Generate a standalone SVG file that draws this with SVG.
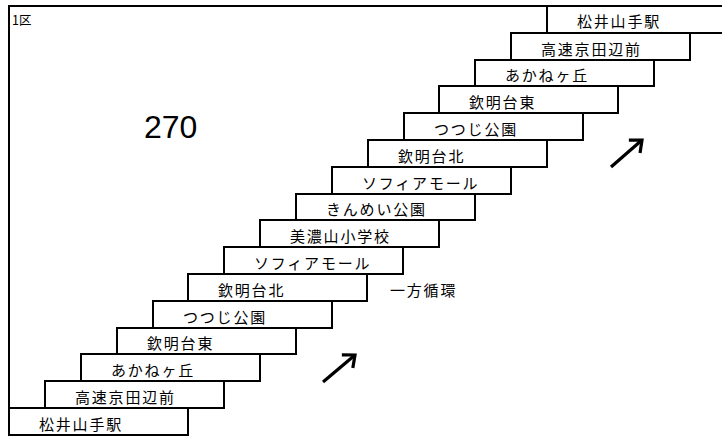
<svg xmlns="http://www.w3.org/2000/svg" width="722" height="436" viewBox="0 0 722 436">
<style>
.box{fill:#fff;stroke:#000;stroke-width:2}
.lbl{font-family:"Noto Sans CJK JP","Noto Sans CJK SC",sans-serif;font-size:15px;letter-spacing:1.8px;fill:#000}
.arr{stroke:#000;stroke-width:3.2;fill:none}
</style>
<defs>
<marker id="ah" markerUnits="userSpaceOnUse" markerWidth="24" markerHeight="24" viewBox="-14 -12 16 24" refX="0" refY="0" orient="auto">
<path d="M-10,-8.5 L0,0 L-10,8.5" fill="none" stroke="#000" stroke-width="3.2"/>
</marker>
</defs>
<rect width="722" height="436" fill="#fff"/>
<path d="M9,435 V6 H722" fill="none" stroke="#000" stroke-width="2"/>
<text x="12" y="25" style="font-family:'Noto Sans CJK JP',sans-serif;font-size:12.5px">1区</text>
<text x="144" y="138" style="font-family:'Liberation Sans',Arial,sans-serif;font-size:32px">270</text>
<text x="390" y="296" class="lbl">一方循環</text>
<g id="n0"><rect class="box" x="9" y="408" width="179" height="27"/><text class="lbl" x="39" y="430">松井山手駅</text></g>
<g id="n1"><rect class="box" x="45" y="381" width="179" height="27"/><text class="lbl" x="75" y="403">高速京田辺前</text></g>
<g id="n2"><rect class="box" x="81" y="354" width="179" height="27"/><text class="lbl" x="111" y="376">あかねヶ丘</text></g>
<g id="n3"><rect class="box" x="117" y="328" width="179" height="26"/><text class="lbl" x="147" y="349">欽明台東</text></g>
<g id="n4"><rect class="box" x="153" y="301" width="179" height="27"/><text class="lbl" x="183" y="323">つつじ公園</text></g>
<g id="n5"><rect class="box" x="188" y="274" width="179" height="27"/><text class="lbl" x="218" y="296">欽明台北</text></g>
<g id="n6"><rect class="box" x="224" y="247" width="179" height="27"/><text class="lbl" x="254" y="269">ソフィアモール</text></g>
<g id="n7"><rect class="box" x="260" y="220" width="179" height="27"/><text class="lbl" x="290" y="242">美濃山小学校</text></g>
<g id="n8"><rect class="box" x="296" y="194" width="179" height="26"/><text class="lbl" x="326" y="215">きんめい公園</text></g>
<g id="n9"><rect class="box" x="332" y="167" width="179" height="27"/><text class="lbl" x="362" y="189">ソフィアモール</text></g>
<g id="n10"><rect class="box" x="368" y="140" width="179" height="27"/><text class="lbl" x="398" y="162">欽明台北</text></g>
<g id="n11"><rect class="box" x="404" y="113" width="179" height="27"/><text class="lbl" x="434" y="135">つつじ公園</text></g>
<g id="n12"><rect class="box" x="439" y="86" width="179" height="27"/><text class="lbl" x="469" y="108">欽明台東</text></g>
<g id="n13"><rect class="box" x="475" y="60" width="179" height="26"/><text class="lbl" x="505" y="81">あかねヶ丘</text></g>
<g id="n14"><rect class="box" x="511" y="33" width="179" height="27"/><text class="lbl" x="541" y="55">高速京田辺前</text></g>
<g id="n15"><rect class="box" x="547" y="6" width="179" height="27"/><text class="lbl" x="577" y="27">松井山手駅</text></g>
<g id="connectors">
<line class="arr" x1="323" y1="382" x2="355" y2="355" marker-end="url(#ah)"/>
<line class="arr" x1="611" y1="167" x2="642" y2="140" marker-end="url(#ah)"/>
</g>
</svg>
